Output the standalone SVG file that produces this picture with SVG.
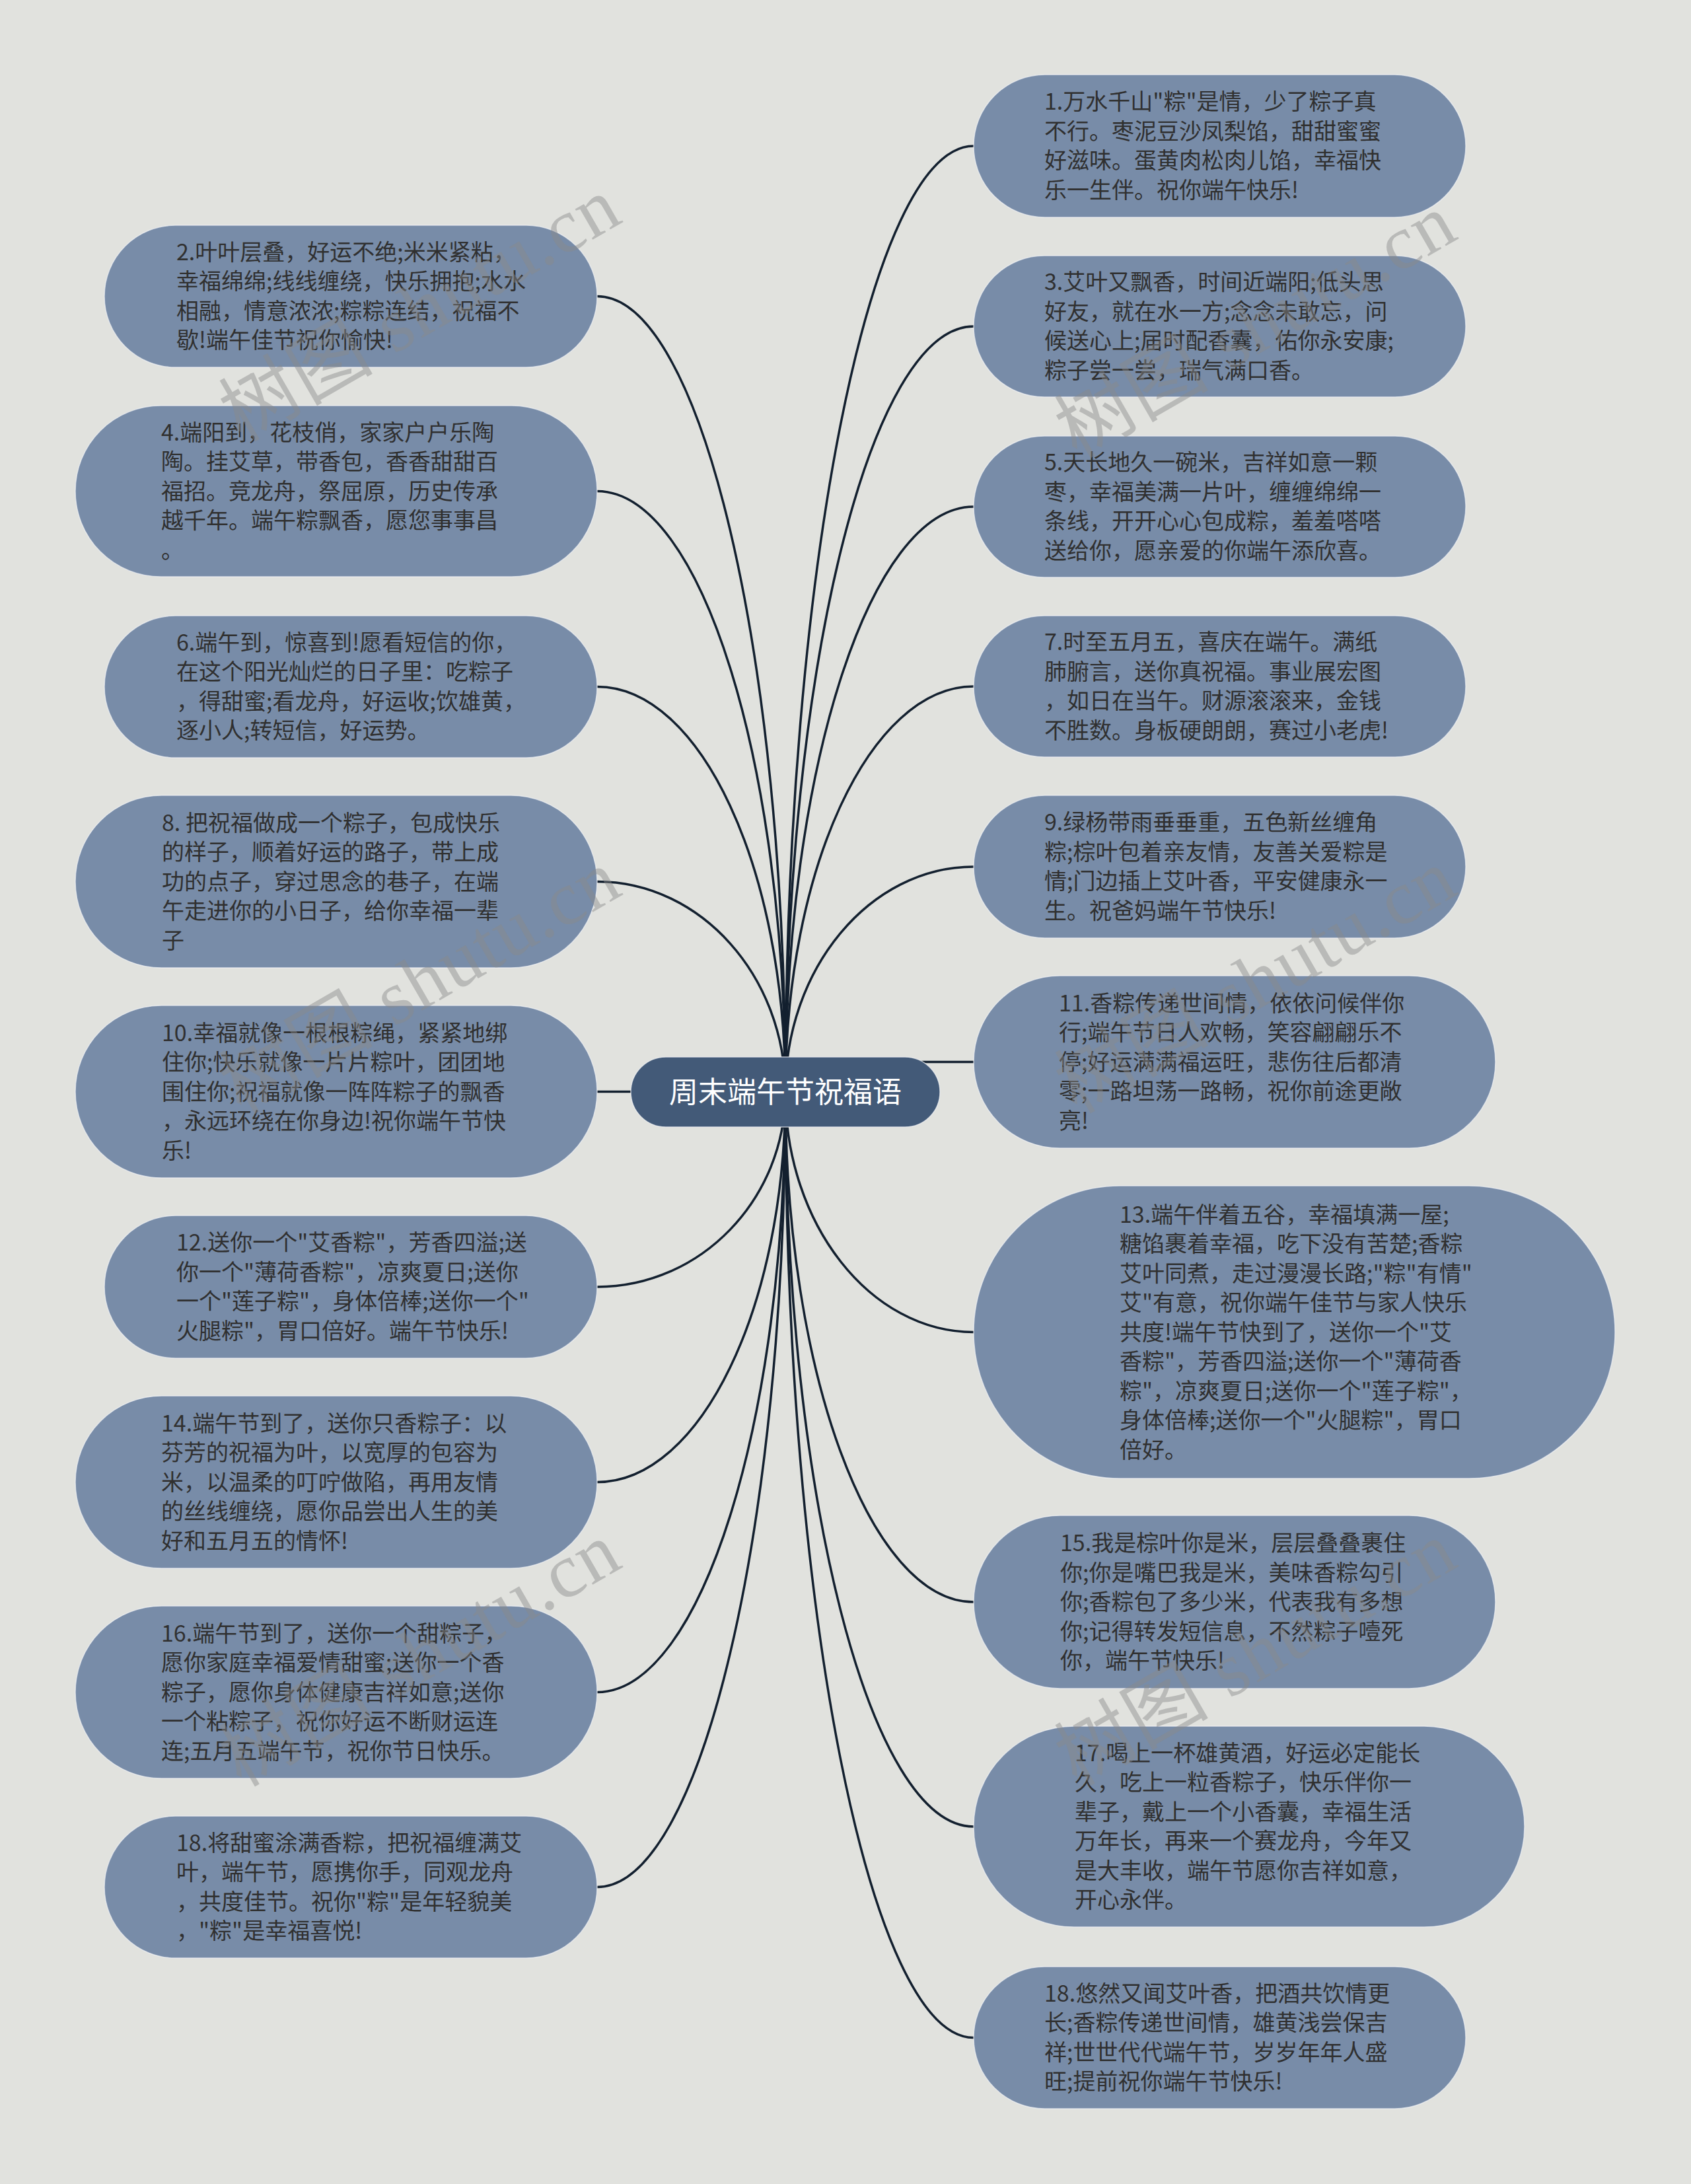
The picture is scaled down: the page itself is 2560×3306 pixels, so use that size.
<svg xmlns="http://www.w3.org/2000/svg" width="2560" height="3306" viewBox="0 0 2560 3306">
<defs>
<style>
.bg{fill:#e1e2de}
.node rect{fill:#788ca8;stroke:#f2f4f7;stroke-opacity:0.7;stroke-width:1.5}
.node text{font-family:"Noto Sans CJK SC","Noto Sans",sans-serif;font-size:34px;fill:#303030}
.root rect{fill:#435a78;stroke:#f2f4f7;stroke-opacity:0.7;stroke-width:1.5}
.root text{font-family:"Noto Sans CJK SC","Noto Sans",sans-serif;font-size:44px;fill:#ffffff;text-anchor:middle}
.conn path{fill:none;stroke:#13202f;stroke-width:3.5;stroke-linecap:round}
.wm{font-family:"Liberation Serif","Noto Sans CJK SC",serif;font-size:116px;fill:#8a8a8a;fill-opacity:0.45}
</style>
</defs>
<rect class="bg" x="0" y="0" width="2560" height="3306"/>

<g id="connectors" class="conn">
<path d="M1189,1653 C1189,990.5 1060.75,448.5 904,448.5"/>
<path d="M1189,1653 C1189,1152.8 1060.75,743.5 904,743.5"/>
<path d="M1189,1653 C1189,1315.6 1060.75,1039.5 904,1039.5"/>
<path d="M1189,1653 C1189,1477.8 1060.75,1334.5 904,1334.5"/>
<path d="M1189,1652.5 L904,1652.5"/>
<path d="M1189,1653 C1189,1815.25 1060.75,1948 904,1948"/>
<path d="M1189,1653 C1189,1977.8 1060.75,2243.5 904,2243.5"/>
<path d="M1189,1653 C1189,2152.7 1060.75,2561.5 904,2561.5"/>
<path d="M1189,1653 C1189,2314.9 1060.75,2856.5 904,2856.5"/>
<path d="M1189,1653 C1189,865.4 1317.25,221 1474,221"/>
<path d="M1189,1653 C1189,1015.55 1317.25,494 1474,494"/>
<path d="M1189,1653 C1189,1165.7 1317.25,767 1474,767"/>
<path d="M1189,1653 C1189,1315.3 1317.25,1039 1474,1039"/>
<path d="M1189,1653 C1189,1465.45 1317.25,1312 1474,1312"/>
<path d="M1189,1607.5 L1474,1607.5"/>
<path d="M1189,1653 C1189,1852.9 1317.25,2016.5 1474,2016.5"/>
<path d="M1189,1653 C1189,2077.6 1317.25,2425 1474,2425"/>
<path d="M1189,1653 C1189,2264.6 1317.25,2765 1474,2765"/>
<path d="M1189,1653 C1189,2440.3 1317.25,3084.5 1474,3084.5"/>
</g>

<g id="root" class="root">
<rect x="955" y="1600" width="468" height="106" rx="53"/>
<text x="1189" y="1669">周末端午节祝福语</text>
</g>

<g id="n1" class="node">
<rect x="1474" y="113" width="745" height="216" rx="108"/>
<text x="1581" y="166.25"><tspan x="1581">1.万水千山"粽"是情，少了粽子真</tspan><tspan x="1581" dy="44.5">不行。枣泥豆沙凤梨馅，甜甜蜜蜜</tspan><tspan x="1581" dy="44.5">好滋味。蛋黄肉松肉儿馅，幸福快</tspan><tspan x="1581" dy="44.5">乐一生伴。祝你端午快乐!</tspan></text>
</g>

<g id="n2" class="node">
<rect x="158" y="341" width="746" height="215" rx="107.5"/>
<text x="267" y="393.75"><tspan x="267">2.叶叶层叠，好运不绝;米米紧粘，</tspan><tspan x="267" dy="44.5">幸福绵绵;线线缠绕，快乐拥抱;水水</tspan><tspan x="267" dy="44.5">相融，情意浓浓;粽粽连结，祝福不</tspan><tspan x="267" dy="44.5">歇!端午佳节祝你愉快!</tspan></text>
</g>

<g id="n3" class="node">
<rect x="1474" y="387" width="745" height="214" rx="107"/>
<text x="1581" y="439.25"><tspan x="1581">3.艾叶又飘香，时间近端阳;低头思</tspan><tspan x="1581" dy="44.5">好友，就在水一方;念念未敢忘，问</tspan><tspan x="1581" dy="44.5">候送心上;届时配香囊，佑你永安康;</tspan><tspan x="1581" dy="44.5">粽子尝一尝，瑞气满口香。</tspan></text>
</g>

<g id="n4" class="node">
<rect x="114" y="614" width="790" height="259" rx="129.5"/>
<text x="244" y="666.5"><tspan x="244">4.端阳到，花枝俏，家家户户乐陶</tspan><tspan x="244" dy="44.5">陶。挂艾草，带香包，香香甜甜百</tspan><tspan x="244" dy="44.5">福招。竞龙舟，祭屈原，历史传承</tspan><tspan x="244" dy="44.5">越千年。端午粽飘香，愿您事事昌</tspan><tspan x="244" dy="44.5">。</tspan></text>
</g>

<g id="n5" class="node">
<rect x="1474" y="660" width="745" height="214" rx="107"/>
<text x="1581" y="712.25"><tspan x="1581">5.天长地久一碗米，吉祥如意一颗</tspan><tspan x="1581" dy="44.5">枣，幸福美满一片叶，缠缠绵绵一</tspan><tspan x="1581" dy="44.5">条线，开开心心包成粽，羞羞嗒嗒</tspan><tspan x="1581" dy="44.5">送给你，愿亲爱的你端午添欣喜。</tspan></text>
</g>

<g id="n6" class="node">
<rect x="158" y="932" width="746" height="215" rx="107.5"/>
<text x="267" y="984.75"><tspan x="267">6.端午到，惊喜到!愿看短信的你，</tspan><tspan x="267" dy="44.5">在这个阳光灿烂的日子里：吃粽子</tspan><tspan x="267" dy="44.5">，得甜蜜;看龙舟，好运收;饮雄黄，</tspan><tspan x="267" dy="44.5">逐小人;转短信，好运势。</tspan></text>
</g>

<g id="n7" class="node">
<rect x="1474" y="932" width="745" height="214" rx="107"/>
<text x="1581" y="984.25"><tspan x="1581">7.时至五月五，喜庆在端午。满纸</tspan><tspan x="1581" dy="44.5">肺腑言，送你真祝福。事业展宏图</tspan><tspan x="1581" dy="44.5">，如日在当午。财源滚滚来，金钱</tspan><tspan x="1581" dy="44.5">不胜数。身板硬朗朗，赛过小老虎!</tspan></text>
</g>

<g id="n8" class="node">
<rect x="114" y="1204" width="790" height="261" rx="130.5"/>
<text x="245" y="1257.5"><tspan x="245">8. 把祝福做成一个粽子，包成快乐</tspan><tspan x="245" dy="44.5">的样子，顺着好运的路子，带上成</tspan><tspan x="245" dy="44.5">功的点子，穿过思念的巷子，在端</tspan><tspan x="245" dy="44.5">午走进你的小日子，给你幸福一辈</tspan><tspan x="245" dy="44.5">子</tspan></text>
</g>

<g id="n9" class="node">
<rect x="1474" y="1204" width="745" height="216" rx="108"/>
<text x="1581" y="1257.25"><tspan x="1581">9.绿杨带雨垂垂重，五色新丝缠角</tspan><tspan x="1581" dy="44.5">粽;棕叶包着亲友情，友善关爱粽是</tspan><tspan x="1581" dy="44.5">情;门边插上艾叶香，平安健康永一</tspan><tspan x="1581" dy="44.5">生。祝爸妈端午节快乐!</tspan></text>
</g>

<g id="n10" class="node">
<rect x="114" y="1522" width="790" height="261" rx="130.5"/>
<text x="245" y="1575.5"><tspan x="245">10.幸福就像一根根粽绳，紧紧地绑</tspan><tspan x="245" dy="44.5">住你;快乐就像一片片粽叶，团团地</tspan><tspan x="245" dy="44.5">围住你;祝福就像一阵阵粽子的飘香</tspan><tspan x="245" dy="44.5">，永远环绕在你身边!祝你端午节快</tspan><tspan x="245" dy="44.5">乐!</tspan></text>
</g>

<g id="n11" class="node">
<rect x="1474" y="1477" width="790" height="261" rx="130.5"/>
<text x="1603" y="1530.5"><tspan x="1603">11.香粽传递世间情，依依问候伴你</tspan><tspan x="1603" dy="44.5">行;端午节日人欢畅，笑容翩翩乐不</tspan><tspan x="1603" dy="44.5">停;好运满满福运旺，悲伤往后都清</tspan><tspan x="1603" dy="44.5">零;一路坦荡一路畅，祝你前途更敞</tspan><tspan x="1603" dy="44.5">亮!</tspan></text>
</g>

<g id="n12" class="node">
<rect x="158" y="1840" width="746" height="216" rx="108"/>
<text x="267" y="1893.25"><tspan x="267">12.送你一个"艾香粽"，芳香四溢;送</tspan><tspan x="267" dy="44.5">你一个"薄荷香粽"，凉爽夏日;送你</tspan><tspan x="267" dy="44.5">一个"莲子粽"，身体倍棒;送你一个"</tspan><tspan x="267" dy="44.5">火腿粽"，胃口倍好。端午节快乐!</tspan></text>
</g>

<g id="n13" class="node">
<rect x="1474" y="1795" width="971" height="443" rx="221.5"/>
<text x="1695" y="1850.5"><tspan x="1695">13.端午伴着五谷，幸福填满一屋;</tspan><tspan x="1695" dy="44.5">糖馅裹着幸福，吃下没有苦楚;香粽</tspan><tspan x="1695" dy="44.5">艾叶同煮，走过漫漫长路;"粽"有情"</tspan><tspan x="1695" dy="44.5">艾"有意，祝你端午佳节与家人快乐</tspan><tspan x="1695" dy="44.5">共度!端午节快到了，送你一个"艾</tspan><tspan x="1695" dy="44.5">香粽"，芳香四溢;送你一个"薄荷香</tspan><tspan x="1695" dy="44.5">粽"，凉爽夏日;送你一个"莲子粽"，</tspan><tspan x="1695" dy="44.5">身体倍棒;送你一个"火腿粽"，胃口</tspan><tspan x="1695" dy="44.5">倍好。</tspan></text>
</g>

<g id="n14" class="node">
<rect x="114" y="2113" width="790" height="261" rx="130.5"/>
<text x="244" y="2166.5"><tspan x="244">14.端午节到了，送你只香粽子：以</tspan><tspan x="244" dy="44.5">芬芳的祝福为叶，以宽厚的包容为</tspan><tspan x="244" dy="44.5">米，以温柔的叮咛做陷，再用友情</tspan><tspan x="244" dy="44.5">的丝线缠绕，愿你品尝出人生的美</tspan><tspan x="244" dy="44.5">好和五月五的情怀!</tspan></text>
</g>

<g id="n15" class="node">
<rect x="1474" y="2294" width="790" height="262" rx="131"/>
<text x="1605" y="2348"><tspan x="1605">15.我是棕叶你是米，层层叠叠裹住</tspan><tspan x="1605" dy="44.5">你;你是嘴巴我是米，美味香粽勾引</tspan><tspan x="1605" dy="44.5">你;香粽包了多少米，代表我有多想</tspan><tspan x="1605" dy="44.5">你;记得转发短信息，不然粽子噎死</tspan><tspan x="1605" dy="44.5">你，端午节快乐!</tspan></text>
</g>

<g id="n16" class="node">
<rect x="114" y="2431" width="790" height="261" rx="130.5"/>
<text x="244" y="2484.5"><tspan x="244">16.端午节到了，送你一个甜粽子，</tspan><tspan x="244" dy="44.5">愿你家庭幸福爱情甜蜜;送你一个香</tspan><tspan x="244" dy="44.5">粽子，愿你身体健康吉祥如意;送你</tspan><tspan x="244" dy="44.5">一个粘粽子，祝你好运不断财运连</tspan><tspan x="244" dy="44.5">连;五月五端午节，祝你节日快乐。</tspan></text>
</g>

<g id="n17" class="node">
<rect x="1474" y="2613" width="834" height="304" rx="152"/>
<text x="1627" y="2665.75"><tspan x="1627">17.喝上一杯雄黄酒，好运必定能长</tspan><tspan x="1627" dy="44.5">久，吃上一粒香粽子，快乐伴你一</tspan><tspan x="1627" dy="44.5">辈子，戴上一个小香囊，幸福生活</tspan><tspan x="1627" dy="44.5">万年长，再来一个赛龙舟，今年又</tspan><tspan x="1627" dy="44.5">是大丰收，端午节愿你吉祥如意，</tspan><tspan x="1627" dy="44.5">开心永伴。</tspan></text>
</g>

<g id="n18a" class="node">
<rect x="158" y="2749" width="746" height="215" rx="107.5"/>
<text x="267" y="2801.75"><tspan x="267">18.将甜蜜涂满香粽，把祝福缠满艾</tspan><tspan x="267" dy="44.5">叶，端午节，愿携你手，同观龙舟</tspan><tspan x="267" dy="44.5">，共度佳节。祝你"粽"是年轻貌美</tspan><tspan x="267" dy="44.5">，"粽"是幸福喜悦!</tspan></text>
</g>

<g id="n18b" class="node">
<rect x="1474" y="2977" width="745" height="215" rx="107.5"/>
<text x="1581" y="3029.75"><tspan x="1581">18.悠然又闻艾叶香，把酒共饮情更</tspan><tspan x="1581" dy="44.5">长;香粽传递世间情，雄黄浅尝保吉</tspan><tspan x="1581" dy="44.5">祥;世世代代端午节，岁岁年年人盛</tspan><tspan x="1581" dy="44.5">旺;提前祝你端午节快乐!</tspan></text>
</g>

<g id="watermarks">
<text class="wm" x="365" y="670" transform="rotate(-30 365 670)" textLength="670" lengthAdjust="spacing">树图 shutu.cn</text>
<text class="wm" x="365" y="1688" transform="rotate(-30 365 1688)" textLength="670" lengthAdjust="spacing">树图 shutu.cn</text>
<text class="wm" x="365" y="2706" transform="rotate(-30 365 2706)" textLength="670" lengthAdjust="spacing">树图 shutu.cn</text>
<text class="wm" x="1630" y="695" transform="rotate(-30 1630 695)" textLength="670" lengthAdjust="spacing">树图 shutu.cn</text>
<text class="wm" x="1630" y="1687" transform="rotate(-30 1630 1687)" textLength="670" lengthAdjust="spacing">树图 shutu.cn</text>
<text class="wm" x="1630" y="2705" transform="rotate(-30 1630 2705)" textLength="670" lengthAdjust="spacing">树图 shutu.cn</text>
</g>
</svg>
